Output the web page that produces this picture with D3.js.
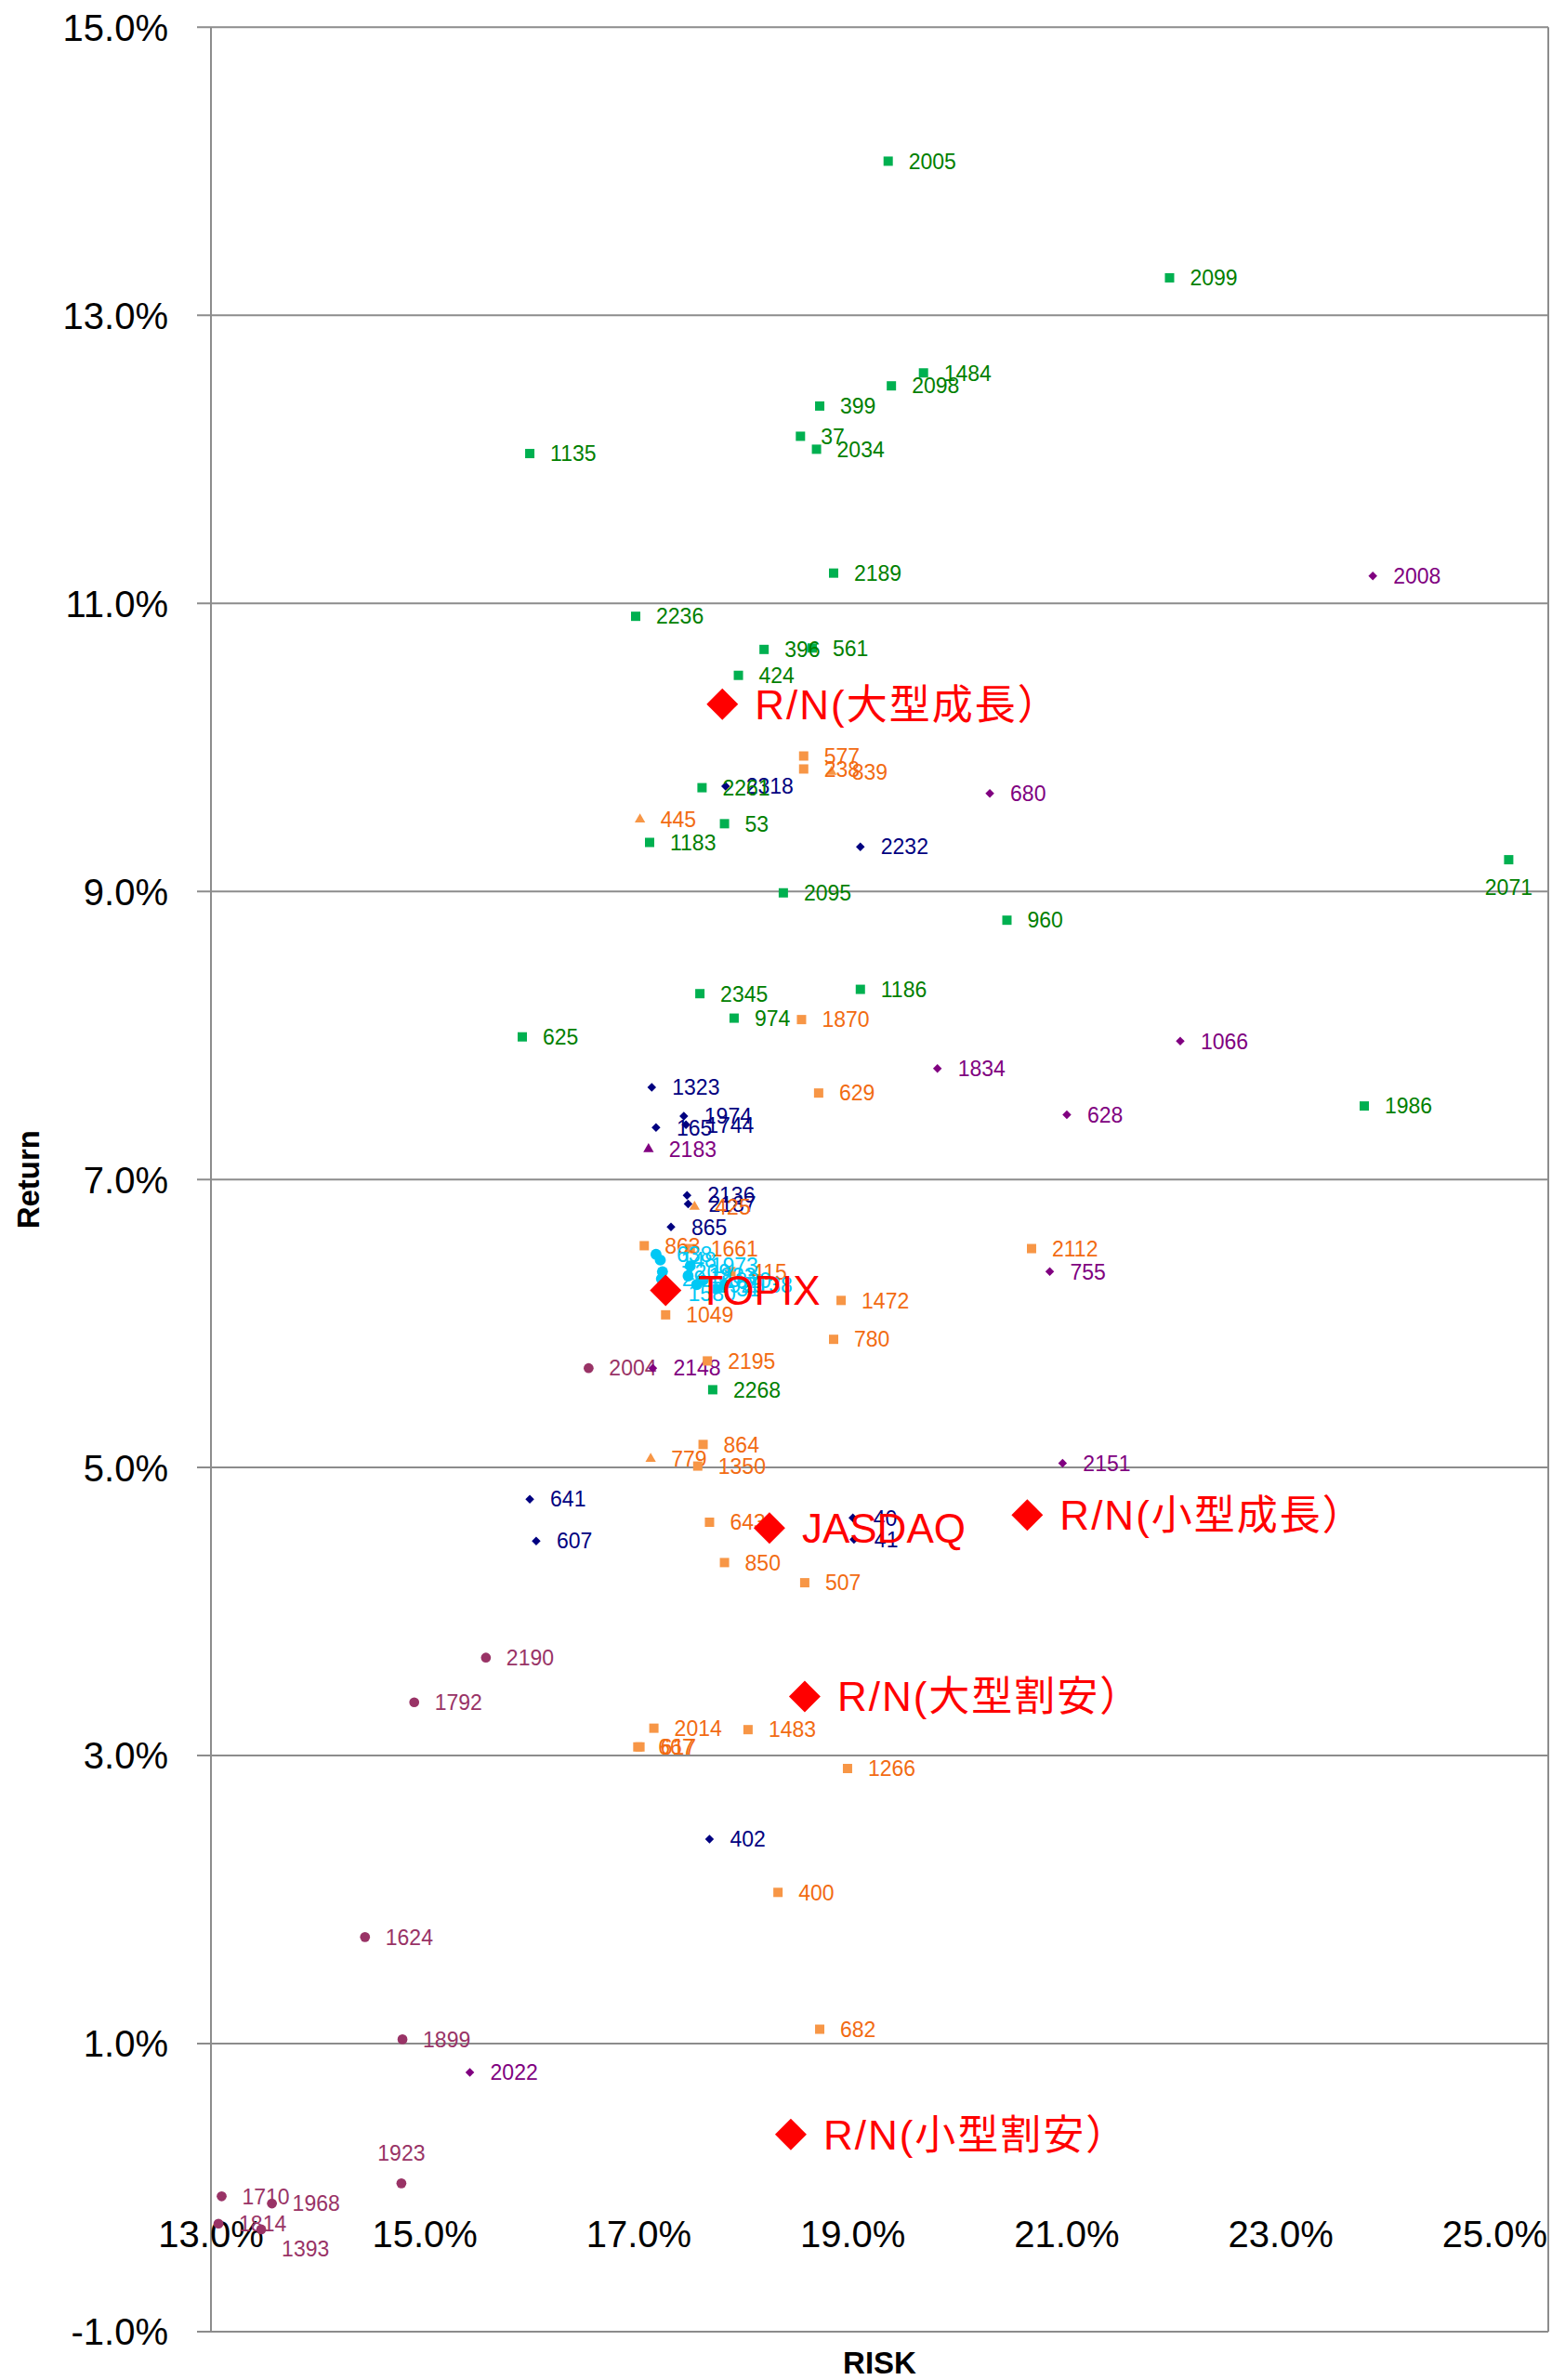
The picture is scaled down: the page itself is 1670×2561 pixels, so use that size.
<!DOCTYPE html>
<html>
<head>
<meta charset="utf-8">
<script src="https://cdn.jsdelivr.net/npm/d3@7"></script>
<style>
  body { margin: 0; background: #fff; }
  svg { display: block; }
</style>
</head>
<body>
<div id="chart"></div>
<script>
// [label, risk %, return %]
const greenSquares = [
  ["2005", 19.33, 14.07], ["2099", 21.96, 13.26], ["1484", 19.66, 12.60],
  ["2098", 19.36, 12.51], ["399", 18.69, 12.37], ["37", 18.51, 12.16],
  ["2034", 18.66, 12.07], ["1135", 15.98, 12.04], ["2189", 18.82, 11.21],
  ["2236", 16.97, 10.91], ["396", 18.17, 10.68], ["561", 18.62, 10.69],
  ["424", 17.93, 10.50], ["2261", 17.59, 9.72], ["53", 17.80, 9.47],
  ["1183", 17.10, 9.34], ["2071", 25.13, 9.22], ["2095", 18.35, 8.99],
  ["960", 20.44, 8.80], ["2345", 17.57, 8.29], ["1186", 19.07, 8.32],
  ["974", 17.89, 8.12], ["625", 15.91, 7.99], ["1986", 23.78, 7.51],
  ["2268", 17.69, 5.54]
];
const orangeSquares = [
  ["577", 18.54, 9.94], ["238", 18.54, 9.85], ["1870", 18.52, 8.11],
  ["629", 18.68, 7.60], ["863", 17.05, 6.54], ["1661", 17.48, 6.52],
  ["415", 17.86, 6.36], ["1049", 17.25, 6.06], ["1472", 18.89, 6.16],
  ["780", 18.82, 5.89], ["2112", 20.67, 6.52], ["2195", 17.64, 5.74],
  ["864", 17.60, 5.16], ["1350", 17.55, 5.01], ["643", 17.66, 4.62],
  ["850", 17.80, 4.34], ["507", 18.55, 4.20], ["2014", 17.14, 3.19],
  ["1483", 18.02, 3.18], ["667", 16.99, 3.06], ["617", 17.01, 3.06],
  ["1266", 18.95, 2.91], ["400", 18.30, 2.05], ["682", 18.69, 1.10]
];
const orangeTriangles = [
  ["839", 18.80, 9.83], ["445", 17.01, 9.50], ["425", 17.52, 6.81],
  ["779", 17.11, 5.06]
];
const navyDiamonds = [
  ["2318", 17.81, 9.73], ["2232", 19.07, 9.31], ["1323", 17.12, 7.64],
  ["1974", 17.42, 7.44], ["165", 17.16, 7.36], ["1744", 17.44, 7.38],
  ["2136", 17.45, 6.89], ["2187", 17.46, 6.83], ["865", 17.30, 6.67],
  ["641", 15.98, 4.78], ["607", 16.04, 4.49], ["40", 19.00, 4.65],
  ["41", 19.01, 4.50], ["402", 17.66, 2.42]
];
const purpleDiamonds = [
  ["2008", 23.86, 11.19], ["680", 20.28, 9.68], ["1066", 22.06, 7.96],
  ["1834", 19.79, 7.77], ["628", 21.00, 7.45], ["755", 20.84, 6.36],
  ["2148", 17.13, 5.69], ["2151", 20.96, 5.03], ["2022", 15.42, 0.80]
];
const purpleTriangles = [
  ["2183", 17.09, 7.21]
];
const maroonCircles = [
  ["2004", 16.53, 5.69], ["2190", 15.57, 3.68], ["1792", 14.90, 3.37],
  ["1624", 14.44, 1.74], ["1899", 14.79, 1.03], ["1923", 14.78, 0.03],
  ["1710", 13.10, -0.06], ["1968", 13.57, -0.11], ["1814", 13.07, -0.25],
  ["1393", 13.47, -0.29]
];
const cyanCircles = [
  ["638", 17.16, 6.48], ["148", 17.20, 6.44], ["2209", 17.22, 6.36],
  ["29", 17.21, 6.31], ["1833", 17.46, 6.33], ["1925", 17.54, 6.27],
  ["1820", 17.60, 6.30], ["31", 17.72, 6.24], ["2138", 17.80, 6.27],
  ["1973", 17.48, 6.40], ["1580", 17.27, 6.21]
];
const indexPoints = [
  ["R/N(大型成長）", 17.78, 10.30], ["TOPIX", 17.25, 6.23],
  ["JASDAQ", 18.22, 4.58], ["R/N(小型成長）", 20.63, 4.67],
  ["R/N(大型割安）", 18.55, 3.41], ["R/N(小型割安）", 18.42, 0.37]
];
const yTicks = [15, 13, 11, 9, 7, 5, 3, 1, -1];
const xTicks = [13, 15, 17, 19, 21, 23, 25];

// label placement that differs from the default "right"
const labelPlace = { "2071": "below", "1923": "above", "1393": "belowRight" };

const width = 1670;
const height = 2561;
const svg = d3.select("#chart").append("svg")
  .attr("width", width).attr("height", height);

const x = d3.scaleLinear().domain([13, 25.5]).range([227, 1666]);
const y = d3.scaleLinear().domain([-1, 15]).range([2509, 29.3]);
const pct = (v) => v.toFixed(1) + "%";

// gridlines
svg.append("g")
  .selectAll("line")
  .data(yTicks)
  .enter()
  .append("line")
  .attr("x1", 212).attr("x2", x.range()[1])
  .attr("y1", (d) => y(d)).attr("y2", (d) => y(d))
  .attr("stroke", "#8c8c8c").attr("stroke-width", 2);

// left axis and right border
svg.append("line").attr("x1", x(13)).attr("x2", x(13))
  .attr("y1", y(15)).attr("y2", y(-1))
  .attr("stroke", "#8c8c8c").attr("stroke-width", 2);
svg.append("line").attr("x1", x.range()[1]).attr("x2", x.range()[1])
  .attr("y1", y(15)).attr("y2", y(-1))
  .attr("stroke", "#8c8c8c").attr("stroke-width", 2);

// y tick labels
svg.append("g")
  .selectAll("text")
  .data(yTicks)
  .enter()
  .append("text")
  .attr("x", 181).attr("y", (d) => y(d))
  .attr("dy", "0.36em")
  .attr("text-anchor", "end")
  .attr("font-family", "Liberation Sans, Arial, sans-serif")
  .attr("font-size", 40)
  .text(pct);

// x tick labels (axis crosses at 0%)
svg.append("g")
  .selectAll("text")
  .data(xTicks)
  .enter()
  .append("text")
  .attr("x", (d) => x(d)).attr("y", y(0) + 50)
  .attr("dy", "0.36em")
  .attr("text-anchor", "middle")
  .attr("font-family", "Liberation Sans, Arial, sans-serif")
  .attr("font-size", 40)
  .text(pct);

// axis titles
svg.append("text")
  .attr("transform", `translate(30, ${(y(15) + y(-1)) / 2}) rotate(-90)`)
  .attr("text-anchor", "middle").attr("dy", "0.36em")
  .attr("font-family", "Liberation Sans, Arial, sans-serif")
  .attr("font-weight", "bold").attr("font-size", 33)
  .text("Return");
svg.append("text")
  .attr("x", (x(13) + x.range()[1]) / 2).attr("y", 2542)
  .attr("text-anchor", "middle").attr("dy", "0.36em")
  .attr("font-family", "Liberation Sans, Arial, sans-serif")
  .attr("font-weight", "bold").attr("font-size", 33)
  .text("RISK");

function drawSeries(data, opts) {
  const g = svg.append("g");
  const sym = d3.symbol().type(opts.type).size(opts.size);
  g.selectAll("path")
    .data(data)
    .enter()
    .append("path")
    .attr("d", sym)
    .attr("transform", (d) =>
      `translate(${x(d[1])}, ${y(d[2])})` + (opts.rotate ? " rotate(45)" : ""))
    .attr("fill", opts.fill);

  g.selectAll("text")
    .data(data)
    .enter()
    .append("text")
    .attr("x", (d) => {
      const p = labelPlace[d[0]];
      if (p === "below" || p === "above") return x(d[1]);
      return x(d[1]) + opts.dx;
    })
    .attr("y", (d) => {
      const p = labelPlace[d[0]];
      if (p === "below") return y(d[2]) + 30;
      if (p === "above") return y(d[2]) - 33;
      if (p === "belowRight") return y(d[2]) + 21;
      return y(d[2]);
    })
    .attr("dy", "0.36em")
    .attr("text-anchor", (d) => {
      const p = labelPlace[d[0]];
      return p === "below" || p === "above" ? "middle" : "start";
    })
    .attr("font-family", "Liberation Sans, Noto Sans CJK JP, sans-serif")
    .attr("font-size", opts.fontSize)
    .attr("letter-spacing", (d) => (opts.wideCjk && /[^\x00-\x7f]/.test(d[0]) ? 2 : 0))
    .attr("fill", opts.labelColor)
    .text((d) => d[0]);
}

drawSeries(maroonCircles, { type: d3.symbolCircle, size: 90, fill: "#993366", labelColor: "#993366", dx: 22, fontSize: 23 });
drawSeries(purpleDiamonds, { type: d3.symbolSquare, size: 45, rotate: true, fill: "#800080", labelColor: "#800080", dx: 22, fontSize: 23 });
drawSeries(purpleTriangles, { type: d3.symbolTriangle, size: 55, fill: "#800080", labelColor: "#800080", dx: 22, fontSize: 23 });
drawSeries(navyDiamonds, { type: d3.symbolSquare, size: 45, rotate: true, fill: "#000080", labelColor: "#000080", dx: 22, fontSize: 23 });
drawSeries(orangeTriangles, { type: d3.symbolTriangle, size: 55, fill: "#F79646", labelColor: "#F26B12", dx: 22, fontSize: 23 });
drawSeries(orangeSquares, { type: d3.symbolSquare, size: 100, fill: "#F79646", labelColor: "#F26B12", dx: 22, fontSize: 23 });
drawSeries(greenSquares, { type: d3.symbolSquare, size: 100, fill: "#00B050", labelColor: "#008000", dx: 22, fontSize: 23 });
drawSeries(cyanCircles, { type: d3.symbolCircle, size: 110, fill: "#00C8F5", labelColor: "#00C8F5", dx: 22, fontSize: 23 });
drawSeries(indexPoints, { type: d3.symbolSquare, size: 576, rotate: true, fill: "#FF0000", labelColor: "#FF0000", dx: 35, fontSize: 44, wideCjk: true });
</script>
</body>
</html>
